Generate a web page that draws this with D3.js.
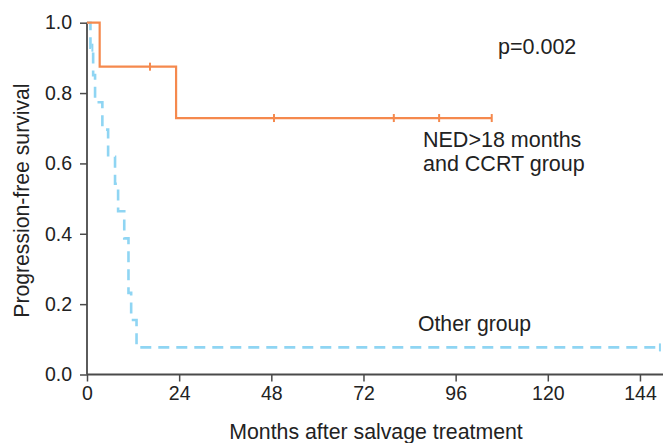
<!DOCTYPE html>
<html>
<head>
<meta charset="utf-8">
<script src="https://cdn.jsdelivr.net/npm/d3@7/dist/d3.min.js"></script>
<style>
html,body{margin:0;padding:0;background:#fff;}
svg text{font-family:"Liberation Sans",Arial,Helvetica,sans-serif;fill:#222;}
</style>
</head>
<body>
<svg id="chart" width="663" height="443"></svg>
<script>
// Data
const xTicks = [0, 24, 48, 72, 96, 120, 144];
const yTicks = [0.0, 0.2, 0.4, 0.6, 0.8, 1.0];

const nedTimes = [0, 3.3, 23.2, 105.4];
const nedSurv = [1, 0.875, 0.729, 0.729];
const nedCensor = [16.4, 48.7, 79.9, 91.7, 105.4];

const otherTimes = [0, 0.9, 1.6, 2.1, 4.0, 5.5, 7.3, 8.1, 9.7, 10.8, 11.5, 12.9, 149.2];
const otherSurv = [1, 0.929, 0.851, 0.774, 0.696, 0.619, 0.542, 0.464, 0.387, 0.232, 0.155, 0.077, 0.077];
const otherCensor = [1.4, 149.2];

const svg = d3.select("#chart");
const x = d3.scaleLinear().domain([0, 150]).range([87, 663]);
const y = d3.scaleLinear().domain([0, 1]).range([374.5, 22.7]);

const axisColor = "#4a4a4a";

// Y axis
const yAxis = svg.append("g").attr("transform", `translate(${x(0)},0)`)
  .call(d3.axisLeft(y).tickValues(yTicks).tickFormat(d3.format(".1f")).tickSize(7).tickSizeOuter(0).tickPadding(8));
// X axis
const xAxis = svg.append("g").attr("transform", `translate(0,${y(0)})`)
  .call(d3.axisBottom(x).tickValues(xTicks).tickSize(7).tickSizeOuter(0).tickPadding(5));

[yAxis, xAxis].forEach(g => {
  g.select(".domain").attr("stroke", axisColor).attr("stroke-width", 1.8);
  g.selectAll(".tick line").attr("stroke", axisColor).attr("stroke-width", 1.5);
  g.selectAll(".tick text").attr("font-size", 19.5).attr("fill", "#222")
    .style("font-family", '"Liberation Sans",Arial,sans-serif');
});
yAxis.select(".domain").attr("d", `M0,${y(0)}V${y(1)}`);
xAxis.select(".domain").attr("d", `M${x(0)},0H663`);

const line = d3.line().x(d => x(d[0])).y(d => y(d[1])).curve(d3.curveStepAfter);
function survAt(times, surv, t) {
  let s = surv[0];
  for (let i = 0; i < times.length; i++) if (times[i] <= t) s = surv[i];
  return s;
}

const blue = "#8fd5f3";
const orange = "#f5894d";

// Other group (dashed blue)
svg.append("path")
  .attr("d", line(otherTimes.map((t, i) => [t, otherSurv[i]])))
  .attr("fill", "none").attr("stroke", blue).attr("stroke-width", 2.6)
  .attr("stroke-dasharray", "11,7");
svg.selectAll(".cb").data(otherCensor).enter().append("line")
  .attr("x1", d => x(d)).attr("x2", d => x(d))
  .attr("y1", d => y(survAt(otherTimes, otherSurv, d)) - 4)
  .attr("y2", d => y(survAt(otherTimes, otherSurv, d)) + 4)
  .attr("stroke", blue).attr("stroke-width", 2);

// NED group (solid orange)
svg.append("path")
  .attr("d", line(nedTimes.map((t, i) => [t, nedSurv[i]])))
  .attr("fill", "none").attr("stroke", orange).attr("stroke-width", 2.2);
svg.selectAll(".co").data(nedCensor).enter().append("line")
  .attr("x1", d => x(d)).attr("x2", d => x(d))
  .attr("y1", d => y(survAt(nedTimes, nedSurv, d)) - 4)
  .attr("y2", d => y(survAt(nedTimes, nedSurv, d)) + 4)
  .attr("stroke", orange).attr("stroke-width", 2);

// Annotations
svg.append("text").attr("x", 498).attr("y", 54).attr("font-size", 21.5).text("p=0.002");
svg.append("text").attr("x", 423).attr("y", 147).attr("font-size", 21.5).text("NED>18 months");
svg.append("text").attr("x", 423).attr("y", 171).attr("font-size", 21.5).text("and CCRT group");
svg.append("text").attr("x", 418).attr("y", 331).attr("font-size", 21.2).text("Other group");

// Axis titles
svg.append("text").attr("x", 376).attr("y", 439).attr("text-anchor", "middle")
  .attr("font-size", 21.3).text("Months after salvage treatment");
svg.append("text").attr("transform", `translate(29,${y(0.5) + 2}) rotate(-90)`)
  .attr("text-anchor", "middle").attr("font-size", 21.2).text("Progression-free survival");
</script>
</body>
</html>
